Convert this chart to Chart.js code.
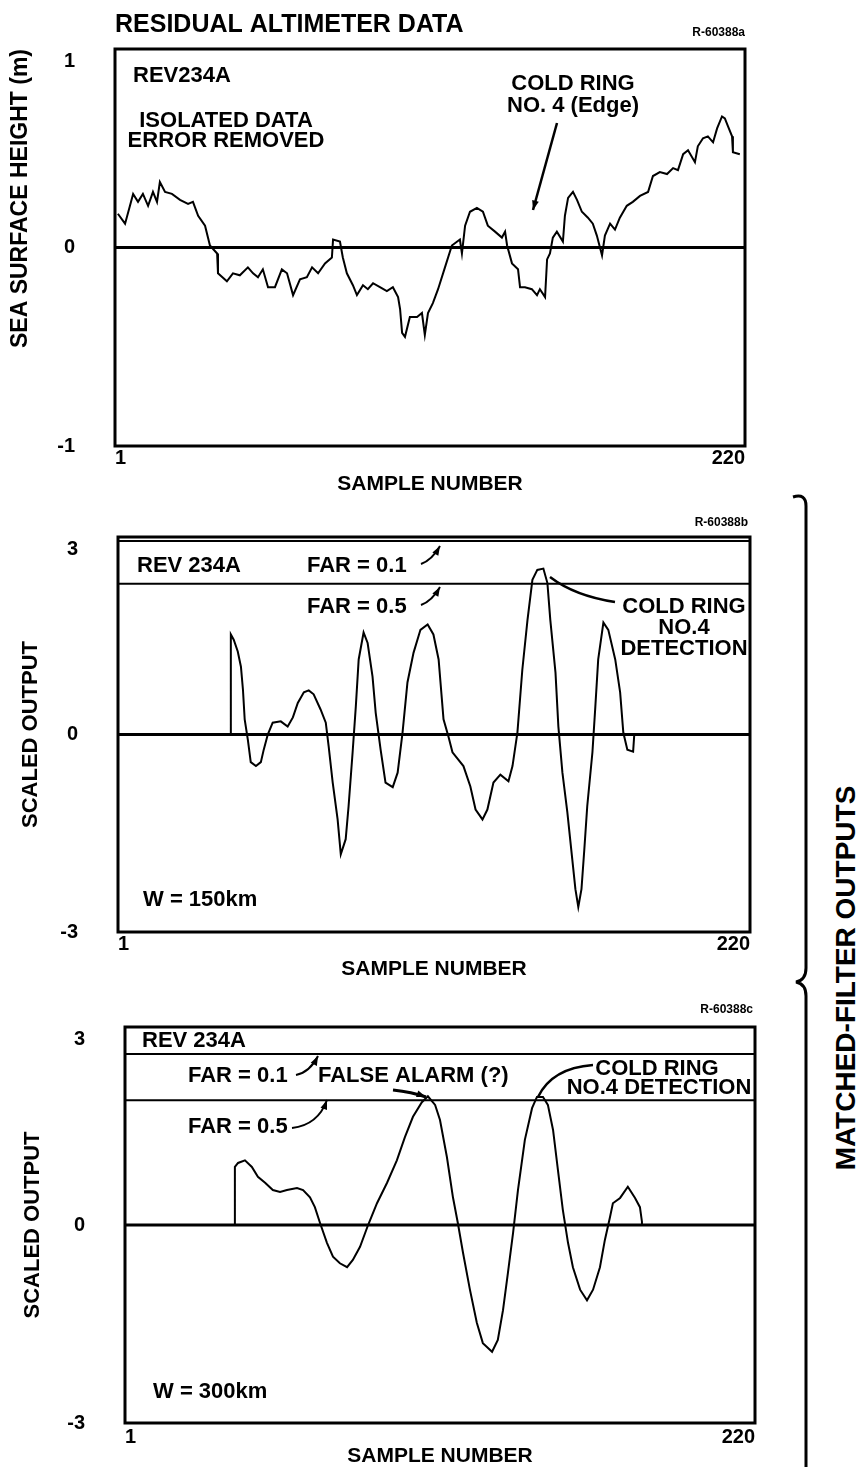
<!DOCTYPE html>
<html>
<head>
<meta charset="utf-8">
<script src="https://cdn.jsdelivr.net/npm/chart.js@4.4.1/dist/chart.umd.min.js"></script>
<style>
  html, body { margin: 0; padding: 0; background: #fff; }
  body { width: 860px; height: 1467px; position: relative; overflow: hidden; }
  canvas { position: absolute; left: 0; }
  #brace { position: absolute; left: 0; top: 0; }
  #mfo {
    position: absolute; left: 846px; top: 978px;
    transform: translate(-50%, -50%) rotate(-90deg);
    white-space: nowrap; font: bold 28px 'Liberation Sans', Arial, sans-serif; color: #000;
  }
</style>
</head>
<body>
<svg id="brace" width="860" height="1467">
  <path d="M793 497 Q806 493 806 506 L806 968 Q806 980 796 982 Q806 984 806 996 L806 1467"
        fill="none" stroke="#000" stroke-width="3"/>
</svg>
<div id="mfo">MATCHED-FILTER OUTPUTS</div>
<canvas id="alt" width="780" height="500" style="top:0"></canvas>
<canvas id="w150" width="780" height="490" style="top:500px"></canvas>
<canvas id="w300" width="780" height="477" style="top:990px"></canvas>
<script>
const FONT = "'Liberation Sans', Arial, sans-serif";

// tick labels
const xTicks = [1, 220];
const altTicks = [-1, 0, 1];
const outTicks = [-3, 0, 3];

// residual altimeter data, REV234A (sample number, sea surface height m)
const altSample = [2.0, 4.5, 6.2, 7.3, 9.0, 10.7, 12.5, 14.2, 15.6, 16.6, 18.4, 20.8, 23.6, 26.4, 28.1, 29.9,
  32.3, 34.0, 36.5, 36.8, 39.9, 42.0, 44.4, 47.2, 49.0, 50.7, 52.4, 54.2, 56.6, 59.0, 60.8, 62.9, 65.3, 67.7,
  69.5, 71.6, 74.0, 76.4, 76.8, 79.2, 80.2, 81.6, 83.7, 85.1, 87.2, 88.9, 90.7, 93.1, 95.5, 97.6, 99.4, 100.1,
  100.8, 101.8, 103.5, 106.0, 107.7, 108.7, 109.8, 111.5, 113.3, 115.7, 118.1, 120.9, 121.6, 122.7, 124.4,
  126.8, 128.9, 130.6, 133.1, 135.5, 136.6, 137.3, 139.0, 141.1, 141.8, 143.5, 145.9, 147.7, 148.7, 150.5,
  151.2, 152.2, 153.2, 154.6, 156.7, 157.4, 158.5, 160.2, 161.6, 163.3, 165.4, 167.1, 168.5, 170.3, 171.3,
  173.1, 174.8, 176.5, 178.9, 181.0, 183.5, 186.3, 188.0, 190.4, 192.9, 195.0, 196.7, 198.5, 200.2, 202.6,
  203.6, 205.4, 207.1, 208.9, 210.3, 212.0, 213.0, 214.1, 215.5, 215.8, 218.2];
const altHeight = [0.17, 0.12, 0.21, 0.27, 0.23, 0.27, 0.21, 0.28, 0.23, 0.33, 0.28, 0.27, 0.24, 0.22, 0.23, 0.16,
  0.11, 0.01, -0.03, -0.13, -0.17, -0.13, -0.14, -0.10, -0.13, -0.15, -0.11, -0.20, -0.20, -0.11, -0.13, -0.24,
  -0.16, -0.15, -0.10, -0.13, -0.08, -0.05, 0.04, 0.03, -0.05, -0.13, -0.19, -0.24, -0.19, -0.21, -0.18, -0.20,
  -0.22, -0.20, -0.25, -0.31, -0.43, -0.45, -0.35, -0.35, -0.33, -0.44, -0.33, -0.28, -0.21, -0.10, 0.01, 0.04,
  -0.03, 0.11, 0.18, 0.20, 0.18, 0.11, 0.08, 0.05, 0.08, 0.01, -0.08, -0.11, -0.20, -0.20, -0.21, -0.24, -0.21,
  -0.25, -0.06, -0.03, 0.05, 0.08, 0.03, 0.16, 0.25, 0.28, 0.24, 0.18, 0.15, 0.12, 0.06, -0.04, 0.06, 0.12,
  0.09, 0.15, 0.21, 0.23, 0.26, 0.28, 0.36, 0.38, 0.37, 0.40, 0.39, 0.47, 0.49, 0.43, 0.51, 0.55, 0.56, 0.53,
  0.60, 0.66, 0.65, 0.61, 0.56, 0.48, 0.47];

// matched-filter output, W = 150 km
const w150Sample = [40.1, 40.1, 41.1, 42.5, 43.6, 44.3, 44.9, 46.0, 47.0, 48.8, 50.5, 51.5, 52.9, 54.6, 57.4,
  59.8, 61.6, 63.3, 65.4, 67.1, 68.8, 71.2, 73.0, 74.0, 75.4, 77.1, 78.2, 79.9, 80.9, 82.3, 83.4, 84.4, 86.1,
  87.5, 89.2, 90.3, 92.0, 93.7, 96.2, 97.9, 99.6, 101.3, 103.4, 105.8, 108.3, 110.3, 112.1, 113.8, 115.5,
  116.9, 120.7, 123.1, 124.9, 127.3, 129.0, 131.1, 133.5, 136.3, 137.7, 139.4, 141.1, 142.9, 144.6, 146.3,
  148.4, 149.8, 150.8, 152.6, 153.6, 155.0, 156.7, 158.4, 159.5, 160.5, 161.6, 162.6, 163.6, 165.4, 166.4,
  167.4, 169.2, 170.9, 173.3, 175.0, 176.1, 177.5, 179.5, 179.9];
const w150Output = [0, 1.52, 1.44, 1.26, 1.03, 0.68, 0.23, -0.08, -0.42, -0.48, -0.42, -0.23, 0, 0.18, 0.20,
  0.12, 0.26, 0.48, 0.64, 0.67, 0.61, 0.38, 0.18, -0.18, -0.73, -1.29, -1.82, -1.59, -1.09, -0.27, 0.42, 1.14,
  1.55, 1.39, 0.88, 0.33, -0.23, -0.73, -0.80, -0.58, 0.03, 0.79, 1.24, 1.59, 1.67, 1.52, 1.14, 0.23, -0.03,
  -0.27, -0.48, -0.79, -1.14, -1.29, -1.14, -0.73, -0.61, -0.71, -0.48, 0.03, 0.98, 1.74, 2.35, 2.50, 2.52,
  2.30, 1.74, 0.94, 0.12, -0.58, -1.18, -1.89, -2.35, -2.62, -2.35, -1.74, -1.09, -0.27, 0.42, 1.14, 1.70,
  1.59, 1.14, 0.64, 0.03, -0.23, -0.26, 0];
const far150 = [2.94, 2.29]; // FAR = 0.1, FAR = 0.5

// matched-filter output, W = 300 km
const w300Sample = [39.2, 39.2, 40.3, 42.7, 45.1, 47.2, 49.7, 52.4, 54.9, 57.3, 60.8, 62.9, 65.3, 67.0, 68.8,
  71.2, 73.3, 75.7, 78.2, 80.2, 82.7, 85.5, 88.6, 92.1, 95.5, 98.3, 101.1, 104.2, 106.3, 108.8, 110.5, 112.9,
  115.0, 116.7, 118.5, 120.9, 123.3, 125.4, 128.6, 130.6, 132.4, 134.1, 135.9, 137.6, 140.0, 142.5, 144.2,
  146.3, 148.0, 149.8, 151.5, 153.2, 155.0, 156.7, 159.2, 161.6, 163.7, 166.1, 167.8, 169.6, 170.6, 173.1,
  175.8, 178.3, 180.0, 180.7, 180.7];
const w300Output = [0, 0.88, 0.94, 0.98, 0.88, 0.73, 0.64, 0.53, 0.50, 0.53, 0.56, 0.53, 0.42, 0.27, 0.03,
  -0.27, -0.48, -0.58, -0.64, -0.53, -0.33, 0, 0.33, 0.64, 0.98, 1.33, 1.64, 1.86, 1.95, 1.82, 1.59, 1.03,
  0.42, 0.03, -0.42, -0.98, -1.48, -1.79, -1.92, -1.74, -1.29, -0.73, -0.12, 0.53, 1.29, 1.77, 1.94, 1.94,
  1.82, 1.44, 0.83, 0.23, -0.27, -0.64, -0.98, -1.14, -0.98, -0.64, -0.23, 0.12, 0.33, 0.41, 0.58, 0.41,
  0.27, 0.05, 0];
const far300 = [2.59, 1.89];

function pts(xs, ys) { return xs.map((x, i) => ({ x: x, y: ys[i] })); }
function hline(v) { return [{ x: 1, y: v }, { x: 220, y: v }]; }

function txt(ctx, s, x, y, size, align) {
  ctx.font = 'bold ' + size + 'px ' + FONT;
  ctx.textAlign = align || 'left';
  ctx.textBaseline = 'middle';
  ctx.fillText(s, x, y);
}

function arrow(ctx, x1, y1, cx, cy, x2, y2, w) {
  ctx.lineWidth = w || 2;
  ctx.beginPath();
  ctx.moveTo(x1, y1);
  ctx.quadraticCurveTo(cx, cy, x2, y2);
  ctx.stroke();
  const ang = Math.atan2(y2 - cy, x2 - cx);
  ctx.beginPath();
  ctx.moveTo(x2, y2);
  ctx.lineTo(x2 - 10 * Math.cos(ang - 0.35), y2 - 10 * Math.sin(ang - 0.35));
  ctx.lineTo(x2 - 10 * Math.cos(ang + 0.35), y2 - 10 * Math.sin(ang + 0.35));
  ctx.closePath();
  ctx.fill();
}

function leader(ctx, x1, y1, cx, cy, x2, y2) {
  ctx.lineWidth = 2.5;
  ctx.beginPath();
  ctx.moveTo(x1, y1);
  ctx.quadraticCurveTo(cx, cy, x2, y2);
  ctx.stroke();
}

// box frame + annotations
function decor(notes) {
  return {
    id: 'decor',
    afterDraw(chart) {
      const { ctx, chartArea: a } = chart;
      ctx.save();
      ctx.strokeStyle = '#000';
      ctx.fillStyle = '#000';
      ctx.lineWidth = 3;
      ctx.strokeRect(a.left, a.top, a.right - a.left, a.bottom - a.top);
      notes(ctx);
      ctx.restore();
    }
  };
}

function makeChart(id, o) {
  const canvas = document.getElementById(id);
  const H = canvas.height;
  const W = canvas.width;
  const datasets = [
    { data: hline(0), borderWidth: 3 },
    ...o.far.map(v => ({ data: hline(v), borderWidth: 2 })),
    { data: o.series, borderWidth: 2 }
  ].map(d => Object.assign({ borderColor: '#000', pointRadius: 0, tension: 0, fill: false }, d));

  return new Chart(canvas.getContext('2d'), {
    type: 'line',
    data: { datasets: datasets },
    options: {
      responsive: false,
      animation: false,
      devicePixelRatio: 1,
      layout: { padding: { left: 0, top: o.box.top, right: W - o.box.right, bottom: 0 } },
      plugins: { legend: { display: false }, tooltip: { enabled: false } },
      scales: {
        x: {
          type: 'linear', min: 1, max: 220,
          afterBuildTicks: s => { s.ticks = xTicks.map(v => ({ value: v })); },
          afterFit: s => { s.height = H - o.box.bottom; s.paddingLeft = 0; s.paddingRight = 0; },
          grid: { display: false, drawTicks: false },
          border: { display: false },
          ticks: {
            align: 'inner', maxRotation: 0, autoSkip: false, padding: o.xPad, color: '#000',
            font: { family: FONT, size: 20, weight: 'bold' }
          },
          title: {
            display: true, text: 'SAMPLE NUMBER', color: '#000',
            font: { family: FONT, size: 21, weight: 'bold', lineHeight: 1 },
            padding: { top: 0, bottom: o.xTitlePad }
          }
        },
        y: {
          type: 'linear', min: o.yTicks[0], max: o.yTicks[2],
          afterBuildTicks: s => { s.ticks = o.yTicks.map(v => ({ value: v })); },
          afterFit: s => { s.width = o.box.left; s.paddingTop = 0; s.paddingBottom = 0; },
          grid: { display: false, drawTicks: false },
          border: { display: false },
          ticks: {
            padding: 40, color: '#000',
            font: { family: FONT, size: 20, weight: 'bold' },
            callback: v => (v === o.yTicks[2] ? ['', String(v)] : String(v))
          },
          title: {
            display: true, text: o.yTitle, color: '#000', align: o.yTitleAlign,
            font: { family: FONT, size: o.yTitleSize, weight: 'bold', lineHeight: 1 },
            padding: { top: o.yTitlePad, bottom: 0 }
          }
        }
      }
    },
    plugins: [decor(o.notes)]
  });
}

makeChart('alt', {
  series: pts(altSample, altHeight), far: [], yTicks: altTicks,
  box: { left: 115, right: 745, top: 49, bottom: 446 },
  xPad: 0, xTitlePad: 5, yTitle: 'SEA SURFACE HEIGHT (m)', yTitleAlign: 'end', yTitlePad: 9, yTitleSize: 23,
  notes: ctx => {
    txt(ctx, 'RESIDUAL ALTIMETER DATA', 115, 25, 25);
    txt(ctx, 'R-60388a', 745, 33, 12, 'right');
    txt(ctx, 'REV234A', 133, 76, 22);
    txt(ctx, 'ISOLATED DATA', 226, 121, 22, 'center');
    txt(ctx, 'ERROR REMOVED', 226, 141, 22, 'center');
    txt(ctx, 'COLD RING', 573, 84, 22, 'center');
    txt(ctx, 'NO. 4 (Edge)', 573, 106, 22, 'center');
    arrow(ctx, 557, 123, 545, 166, 533, 210, 2.5);
  }
});

makeChart('w150', {
  series: pts(w150Sample, w150Output), far: far150, yTicks: outTicks,
  box: { left: 118, right: 750, top: 37, bottom: 432 },
  xPad: 0, xTitlePad: 10, yTitle: 'SCALED OUTPUT', yTitleAlign: 'center', yTitlePad: 20, yTitleSize: 22,
  notes: ctx => {
    txt(ctx, 'R-60388b', 748, 23, 12, 'right');
    txt(ctx, 'REV 234A', 137, 66, 22);
    txt(ctx, 'FAR = 0.1', 307, 66, 22);
    arrow(ctx, 421, 64, 432, 60, 440, 46);
    txt(ctx, 'FAR = 0.5', 307, 107, 22);
    arrow(ctx, 421, 105, 432, 101, 440, 87);
    txt(ctx, 'COLD RING', 684, 107, 22, 'center');
    txt(ctx, 'NO.4', 684, 128, 22, 'center');
    txt(ctx, 'DETECTION', 684, 149, 22, 'center');
    leader(ctx, 615, 102, 575, 96, 550, 77);
    txt(ctx, 'W = 150km', 143, 400, 22);
  }
});

makeChart('w300', {
  series: pts(w300Sample, w300Output), far: far300, yTicks: outTicks,
  box: { left: 125, right: 755, top: 37, bottom: 433 },
  xPad: 2, xTitlePad: 0, yTitle: 'SCALED OUTPUT', yTitleAlign: 'center', yTitlePad: 22, yTitleSize: 22,
  notes: ctx => {
    txt(ctx, 'R-60388c', 753, 20, 12, 'right');
    txt(ctx, 'REV 234A', 142, 51, 22);
    txt(ctx, 'FAR = 0.1', 188, 86, 22);
    arrow(ctx, 296, 85, 310, 82, 318, 66);
    txt(ctx, 'FALSE ALARM (?)', 318, 86, 22);
    arrow(ctx, 393, 100, 412, 102, 426, 107, 3);
    txt(ctx, 'COLD RING', 657, 79, 22, 'center');
    txt(ctx, 'NO.4 DETECTION', 659, 98, 22, 'center');
    leader(ctx, 593, 75, 552, 78, 538, 107);
    txt(ctx, 'FAR = 0.5', 188, 137, 22);
    arrow(ctx, 292, 138, 318, 135, 327, 110);
    txt(ctx, 'W = 300km', 153, 402, 22);
  }
});
</script>
</body>
</html>
